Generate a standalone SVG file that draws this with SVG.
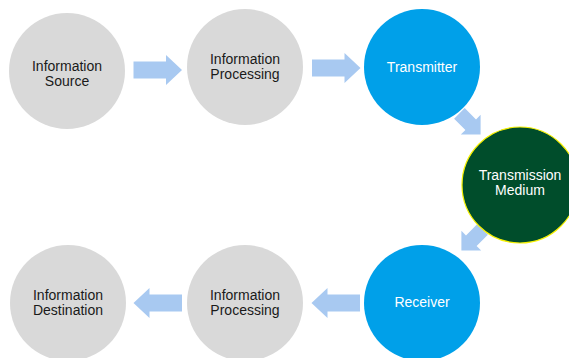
<svg xmlns="http://www.w3.org/2000/svg" width="569" height="358" viewBox="0 0 569 358">
<defs>
<style>
.g{fill:#d9d9d9}
.b{fill:#00a0e9}
.m{fill:#004d2b;stroke:#f5f000;stroke-width:1.2}
.t{font-family:"Liberation Sans",Arial,sans-serif;font-size:14px;text-anchor:middle}
.dk{fill:#1a1a1a}
.wt{fill:#ffffff}
.a{fill:#a8c9f1}
</style>
<path id="arr" d="M-24,-8.5 H8.5 V-15 L24.5,0 L8.5,15 V8.5 H-24 Z"/>
<path id="arrs" d="M-15,-7.5 H1 V-14 L15,0 L1,14 V7.5 H-15 Z"/>
</defs>
<rect width="569" height="358" fill="#ffffff"/>
<g id="connectors" class="a">
<use href="#arr" transform="translate(157.5,70)"/>
<use href="#arr" transform="translate(336,68)"/>
<use href="#arrs" transform="translate(470,124) rotate(45)"/>
<use href="#arrs" transform="translate(472,240) rotate(135)"/>
<use href="#arr" transform="translate(336,303) rotate(180)"/>
<use href="#arr" transform="translate(158,303) rotate(180)"/>
</g>
<g id="info-source">
<circle class="g" cx="67" cy="71" r="58"/>
<text class="t dk" x="67" y="71">Information</text>
<text class="t dk" x="67" y="86">Source</text>
</g>
<g id="info-processing-1">
<circle class="g" cx="245" cy="67" r="58"/>
<text class="t dk" x="245" y="64">Information</text>
<text class="t dk" x="245" y="79">Processing</text>
</g>
<g id="transmitter">
<circle class="b" cx="422" cy="67" r="58"/>
<text class="t wt" x="422" y="72">Transmitter</text>
</g>
<g id="medium">
<circle class="m" cx="520" cy="185" r="58"/>
<text class="t wt" x="520" y="180">Transmission</text>
<text class="t wt" x="520" y="195">Medium</text>
</g>
<g id="receiver">
<circle class="b" cx="422" cy="303" r="58"/>
<text class="t wt" x="422" y="307">Receiver</text>
</g>
<g id="info-processing-2">
<circle class="g" cx="245" cy="303" r="58"/>
<text class="t dk" x="245" y="300">Information</text>
<text class="t dk" x="245" y="315">Processing</text>
</g>
<g id="info-destination">
<circle class="g" cx="68" cy="303" r="58"/>
<text class="t dk" x="68" y="300">Information</text>
<text class="t dk" x="68" y="315">Destination</text>
</g>
</svg>
